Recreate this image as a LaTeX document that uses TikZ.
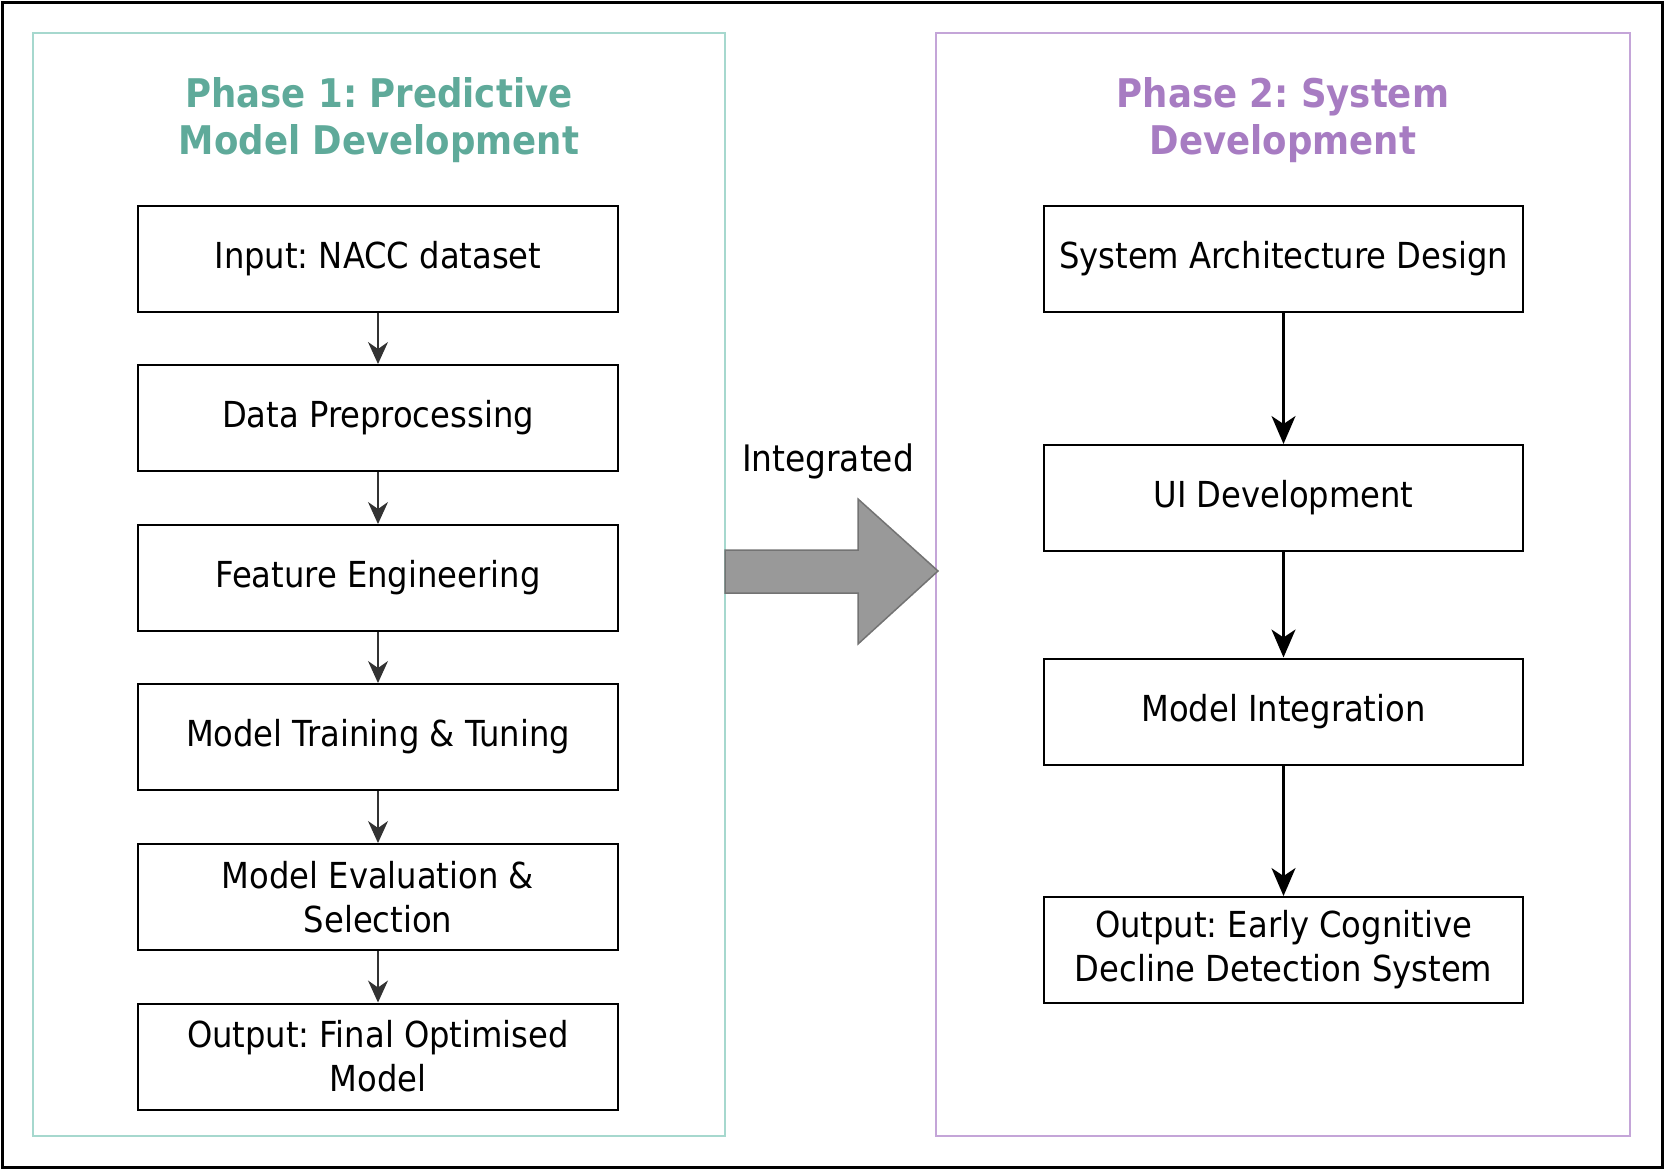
\documentclass[tikz,border=0pt]{standalone}
\usepackage{fontspec}
\setmainfont{DejaVu Sans Condensed}
\frenchspacing
\usetikzlibrary{arrows.meta}
\definecolor{tealT}{RGB}{95,170,154}
\definecolor{tealF}{RGB}{166,216,206}
\definecolor{purT}{RGB}{167,124,194}
\definecolor{purF}{RGB}{196,165,216}
\definecolor{bigarrow}{RGB}{153,153,153}
\tikzset{
  stepbox/.style={draw=black, line width=2pt, fill=white, minimum height=106pt, inner sep=0pt, align=center, font=\fontsize{35.8}{44}\selectfont},
  lbox/.style={stepbox, minimum width=480pt},
  rbox/.style={stepbox, minimum width=479pt},
  ttl/.style={align=center, font=\bfseries\fontsize{39.5}{47}\selectfont},
  smallarr/.style={line width=1.2pt, draw=black!80, -{Stealth[length=22pt,width=20pt,inset=7pt]}},
  bigarr/.style={line width=2.2pt, draw=black, -{Stealth[length=28pt,width=24pt,inset=8pt]}},
}
\begin{document}
\begin{tikzpicture}[x=1pt,y=-1pt]
\useasboundingbox (0,0) rectangle (1665,1170);
\draw[line width=3pt] (2,2) rectangle (1662,1167);
\draw[tealF, line width=2.2pt] (33,33) rectangle (725,1136);
\draw[purF, line width=2.2pt] (936,33) rectangle (1630,1136);

\node[ttl, text=tealT] (t1) at (379,120) {Phase 1: Predictive\\Model Development};
\node[ttl, text=purT] (t2) at (1283,120) {Phase 2: System\\Development};

\node[lbox] (l1) at (378,258.5) {Input: NACC dataset};
\node[lbox] (l2) at (378,418) {Data Preprocessing};
\node[lbox] (l3) at (378,578) {Feature Engineering};
\node[lbox] (l4) at (378,737) {Model Training \& Tuning};
\node[lbox] (l5) at (378,897) {Model Evaluation \&\\Selection};
\node[lbox] (l6) at (378,1056.5) {Output: Final Optimised\\Model};

\node[rbox] (r1) at (1283.5,258.5) {System Architecture Design};
\node[rbox] (r2) at (1283.5,498) {UI Development};
\node[rbox] (r3) at (1283.5,711.5) {Model Integration};
\node[rbox] (r4) at (1283.5,950) {Output: Early Cognitive\\Decline Detection System};

\foreach \a/\b in {l1/l2,l2/l3,l3/l4,l4/l5,l5/l6}
  \draw[smallarr] (\a.south) -- (\b.north);
\foreach \a/\b in {r1/r2,r2/r3,r3/r4}
  \draw[bigarr] (\a.south) -- (\b.north);

\node[font=\fontsize{36.5}{42}\selectfont] (int) at (828,461) {Integrated};
\draw[fill=bigarrow, draw=black!55, line width=1.5pt, line join=miter]
  (725,550) -- (858,550) -- (858,499) -- (938,571) -- (858,644) -- (858,593) -- (725,593) -- cycle;
\end{tikzpicture}
\end{document}
